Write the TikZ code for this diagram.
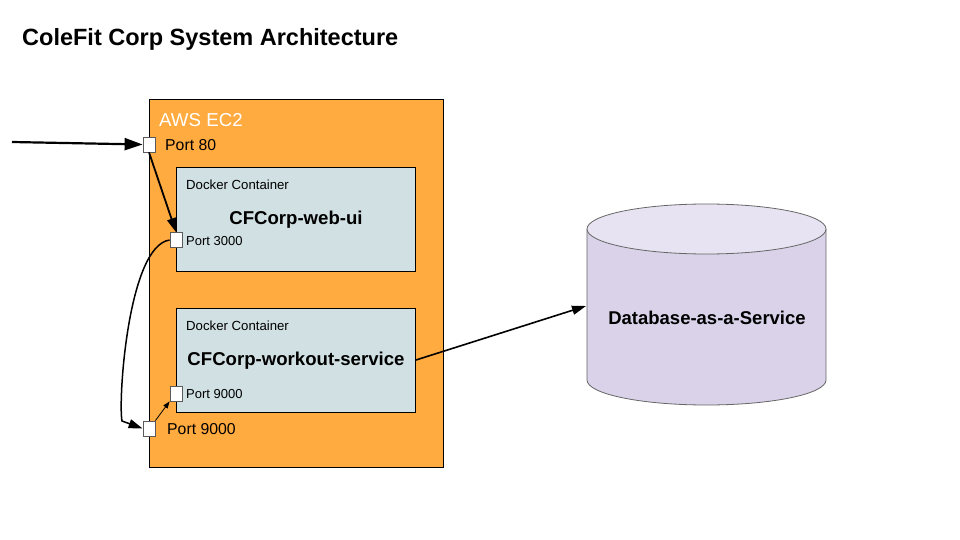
\documentclass[tikz,border=0pt]{standalone}
\usepackage{fontspec}
\setmainfont{Liberation Sans}
\usetikzlibrary{arrows.meta,shapes.geometric}
\definecolor{ecorange}{RGB}{255,171,64}
\definecolor{dockfill}{RGB}{208,224,227}
\definecolor{dbfill}{RGB}{217,210,233}
\definecolor{dbtop}{RGB}{232,227,242}
\definecolor{portgray}{RGB}{90,90,90}
\definecolor{dbline}{RGB}{102,102,102}
\tikzset{
  portbox/.style={draw=portgray,fill=white,line width=0.8pt,minimum width=12pt,minimum height=15pt,inner sep=0pt},
  dockbox/.style={draw=black,fill=dockfill,line width=0.9pt,minimum width=239pt,minimum height=104pt,inner sep=0pt},
  lbl/.style={inner sep=0pt,anchor=west},
  thickarrow/.style={line width=1.8pt,-{Triangle[length=14pt,width=9pt]}},
  bigarrow/.style={line width=2.2pt,-{Triangle[length=18pt,width=12pt]}},
  thinarrow/.style={line width=0.8pt,-{Triangle[length=7pt,width=5pt]}}
}
\begin{document}
\begin{tikzpicture}[x=1pt,y=-1pt]
\useasboundingbox (0,0) rectangle (960,540);
% title
\node[lbl,font=\bfseries\fontsize{23.5}{28}\selectfont] (title) at (22,39) {ColeFit Corp System Architecture};
% EC2
\node[draw=black,fill=ecorange,line width=0.9pt,minimum width=294pt,minimum height=368pt,inner sep=0pt] (ec2) at (296,283) {};
\node[lbl,text=white,font=\fontsize{18.7}{22}\selectfont] (ec2lbl) at (159,120) {AWS EC2};
% docker web ui
\node[dockbox] (web) at (296,219) {};
\node[lbl,font=\fontsize{13.2}{16}\selectfont] (weblbl) at (186,185) {Docker Container};
\node[inner sep=0pt,font=\bfseries\fontsize{18.6}{22}\selectfont] (webname) at (296,220) {CFCorp-web-ui};
% docker workout
\node[dockbox] (wk) at (296,360) {};
\node[lbl,font=\fontsize{13.2}{16}\selectfont] (wklbl) at (186,326) {Docker Container};
\node[inner sep=0pt,font=\bfseries\fontsize{18.6}{22}\selectfont] (wkname) at (296,361) {CFCorp-workout-service};
% ports
\node[portbox] (p80) at (149,144.5) {};
\node[lbl,font=\fontsize{15.8}{19}\selectfont] (p80lbl) at (165,145) {Port 80};
\node[portbox] (p3000) at (176,240) {};
\node[lbl,font=\fontsize{13}{16}\selectfont] (p3000lbl) at (186,241) {Port 3000};
\node[portbox] (p9000i) at (176,393.5) {};
\node[lbl,font=\fontsize{13}{16}\selectfont] (p9000ilbl) at (186,394) {Port 9000};
\node[portbox] (p9000o) at (149,428.5) {};
\node[lbl,font=\fontsize{15.8}{19}\selectfont] (p9000olbl) at (167,429) {Port 9000};
% database cylinder
\fill[dbfill] (587,229) -- (587,380) arc[start angle=180,end angle=360,x radius=119.5pt,y radius=25pt] -- (826,229) -- cycle;
\draw[dbline,line width=0.8pt] (587,229) -- (587,380) arc[start angle=180,end angle=360,x radius=119.5pt,y radius=25pt] -- (826,229);
\draw[dbline,line width=0.8pt,fill=dbtop] (706.5,229) ellipse[x radius=119.5pt,y radius=25pt];
\node[inner sep=0pt,minimum width=239pt,minimum height=176pt] (db) at (706.5,292) {};
\node[inner sep=0pt,font=\bfseries\fontsize{18.5}{22}\selectfont] (dblbl) at (707,318) {Database-as-a-Service};
% connectors
\coordinate (inc) at (12,142);
\draw[bigarrow] (inc) -- (p80.west);
\draw[thickarrow] (p80.south) -- (p3000.north);
\draw[thickarrow,line width=1.5pt] (p3000.west) .. controls (128,246) and (118,400) .. (122,421) -- (p9000o.west);
\draw[thinarrow] (p9000o.north east) -- (p9000i.south west);
\draw[thickarrow,line width=1.6pt] (wk.east) -- (586,306);
\end{tikzpicture}
\end{document}
